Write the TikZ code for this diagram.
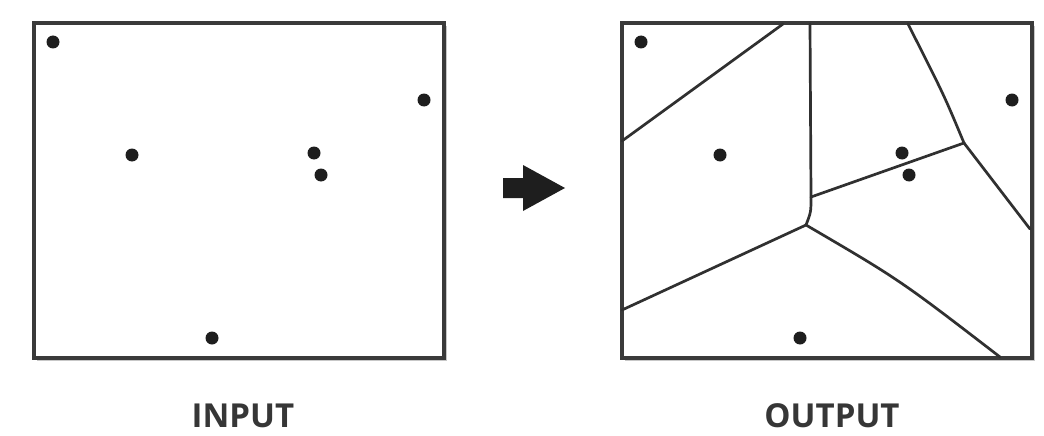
\documentclass[tikz,border=0pt]{standalone}
\usepackage{fontspec}
\setsansfont{Open Sans}
\usetikzlibrary{shadows}
\definecolor{cframe}{HTML}{3A3A3A}
\definecolor{cdot}{HTML}{1E1E1E}
\definecolor{cedge}{HTML}{303030}
\definecolor{ctext}{HTML}{363636}
\tikzset{
  every picture/.style={x=1pt, y=-1pt},
  panel/.style={draw=cframe, line width=3.2pt, fill=white,
    drop shadow={shadow xshift=2.5pt, shadow yshift=-3pt, fill=black, opacity=.22}},
  site/.style={circle, fill=cdot, inner sep=0pt, minimum size=13pt},
  edge/.style={draw=cedge, line width=2.7pt, line cap=round, line join=round},
  label/.style={font=\sffamily\bfseries\fontsize{33}{36}\selectfont, text=ctext},
}

\begin{document}
\begin{tikzpicture}
  \useasboundingbox (0,0) rectangle (1044,436);
  % the two frames
  \draw[panel] (34,23) rectangle (444,358);
  \draw[panel] (622,23) rectangle (1032,358);
  % input points
  \node[site] (i1) at (53,42) {};
  \node[site] (i2) at (132,155) {};
  \node[site] (i3) at (314,153) {};
  \node[site] (i4) at (321,175) {};
  \node[site] (i5) at (424,100) {};
  \node[site] (i6) at (212,338) {};
  % output points
  \node[site] (o1) at (641,42) {};
  \node[site] (o2) at (720,155) {};
  \node[site] (o3) at (902,153) {};
  \node[site] (o4) at (909,175) {};
  \node[site] (o5) at (1012,100) {};
  \node[site] (o6) at (800,338) {};
  % voronoi edges
  \coordinate (ja) at (811,197);
  \coordinate (jb) at (806,225);
  \coordinate (jc) at (964,143);
  \draw[edge] (622,141) -- (783,24);
  \draw[edge] (810,24) -- (ja) .. controls (811,212) .. (jb);
  \draw[edge] (jb) -- (622,310);
  \draw[edge] (jb) .. controls (900,280) .. (1000,357);
  \draw[edge] (ja) -- (jc);
  \draw[edge] (jc) .. controls (944,95) .. (908,24);
  \draw[edge] (jc) -- (1030,229);
  % arrow
  \fill[cdot] (503,178) -- (523,178) -- (523,165) -- (565,188)
    -- (523,211) -- (523,198) -- (503,198) -- cycle;
  % labels
  \node[label] (lin) at (243,416) {INPUT};
  \node[label] (lout) at (832,416) {OUTPUT};
\end{tikzpicture}
\end{document}
